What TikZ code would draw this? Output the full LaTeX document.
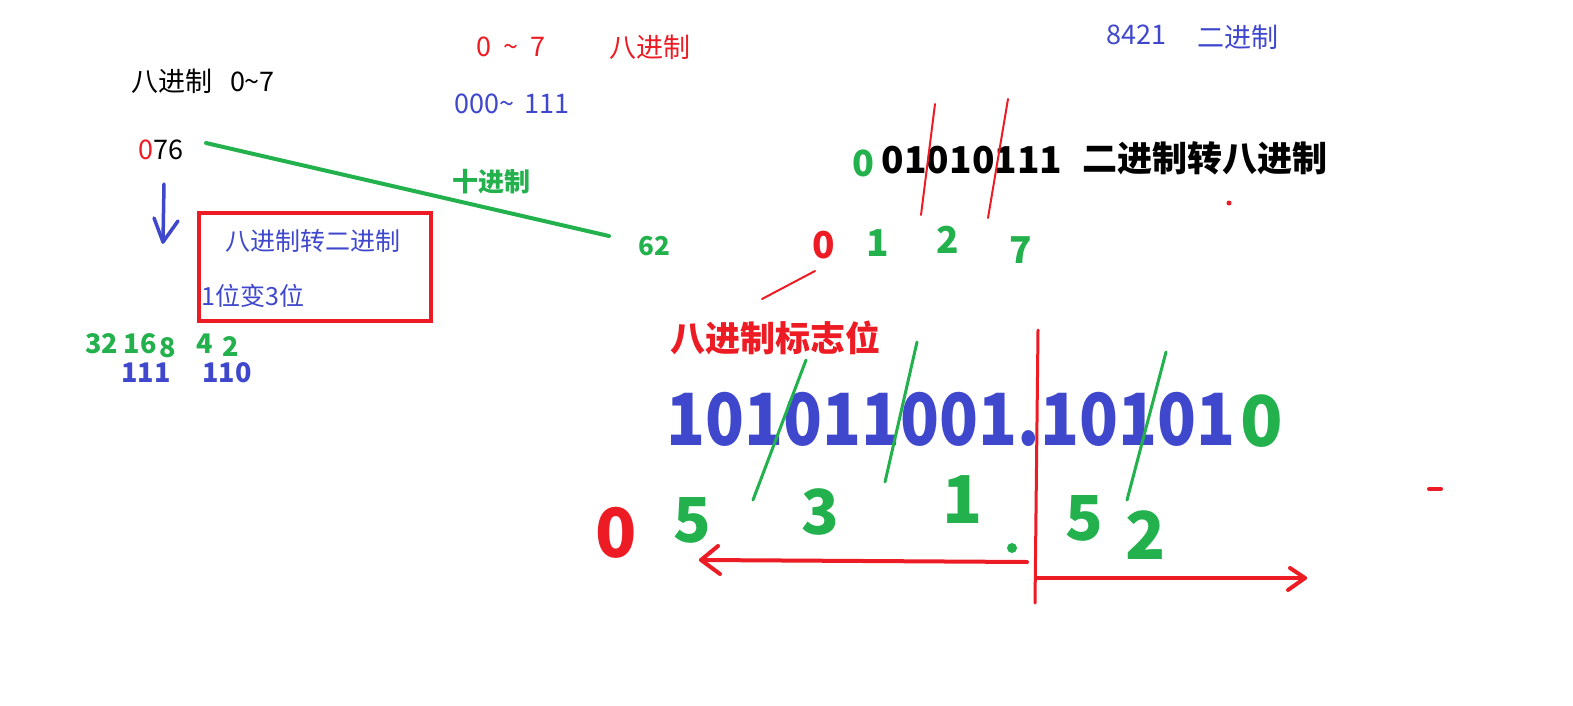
\documentclass[tikz,border=0pt]{standalone}
\usepackage{fontspec}
\usepackage{graphicx}
\setmainfont{Noto Sans CJK SC}
\newcommand\fsz[1]{\fontsize{#1}{#1}\selectfont}
\definecolor{pr}{RGB}{237,28,36}
\definecolor{pg}{RGB}{34,177,76}
\definecolor{pb}{RGB}{63,72,204}
\tikzset{
  txt/.style={inner sep=0pt, outer sep=0pt, anchor=center},
  redline/.style={draw=pr, line width=2pt, line cap=round},
  greenline/.style={draw=pg, line width=3pt, line cap=round},
  arrowline/.style={draw=pr, line width=4pt, line cap=round, line join=round},
}
\begin{document}
\begin{tikzpicture}[x=1pt,y=-1pt]
\useasboundingbox (0,0) rectangle (1573,706);
\fill[white] (0,0) rectangle (1573,706);

% top-left
\node[txt, black, font=\fsz{27}] (t1) at (203,81) {八进制\hspace{18pt}0\textasciitilde7};
\node[txt, pr, font=\fsz{27}] (t2) at (511,47) {0\hspace{12pt}\textasciitilde\hspace{12pt}7};
\node[txt, pr, font=\fsz{27}] (t3) at (650,47) {八进制};
\node[txt, pb, font=\fsz{27}] (t4) at (512,104) {000\textasciitilde\hspace{10pt}111};
\node[txt, font=\fsz{27}] (n076) at (161,150) {\textcolor{pr}{0}76};

% green connector to 62
\coordinate (g1) at (206,143);
\coordinate (g2) at (609,236);
\draw[draw=pg, line width=4pt, line cap=round] (g1) -- (g2);
\node[txt, pg, font=\fsz{26}\bfseries] (t10) at (491,182) {十进制};
\node[txt, pg, font=\fsz{26}\bfseries] (n62) at (654,246) {62};

% blue down arrow
\coordinate (a1) at (164,184);
\coordinate (a2) at (163,242);
\draw[draw=pb, line width=3.5pt, line cap=round] (a1) -- (a2);
\draw[draw=pb, line width=3.5pt, line cap=round, line join=round] (154,218) -- (a2) -- (178,221);

% red box
\draw[draw=pr, line width=4pt] (199,213) rectangle (431,321);
\node[txt, pb, font=\fsz{25}] (b1) at (313,241) {八进制转二进制};
\node[txt, pb, font=\fsz{25}] (b2) at (253,296) {1位变3位};

% weights
\node[txt, pg, font=\fsz{27}\bfseries] (w1) at (121,344) {32\hspace{6pt}16};
\node[txt, pg, font=\fsz{27}\bfseries] (w2) at (168,348) {8};
\node[txt, pg, font=\fsz{27}\bfseries] (w3) at (205,344) {4};
\node[txt, pg, font=\fsz{27}\bfseries] (w4) at (231,347) {2};
\node[txt, pb, font=\fsz{27}\bfseries] (v1) at (146,373) {111};
\node[txt, pb, font=\fsz{27}\bfseries] (v2) at (227,373) {110};

% top-right
\node[txt, pb, font=\fsz{27}] (r1) at (1136,35) {8421};
\node[txt, pb, font=\fsz{27}] (r2) at (1238,37) {二进制};
\node[txt, pg, font=\fsz{36}\bfseries] (r3) at (863,163) {0};
\node[txt, black, font=\fsz{37}\bfseries] (r4) at (972,160) {01010111};
\node[txt, black, font=\fsz{35}\bfseries] (r5) at (1205,158) {二进制转八进制};
\draw[redline] (935,104) -- (921,215);
\draw[redline] (1008,99) -- (988,218);
\fill[pr] (1229,203) circle (2.5pt);
\node[txt, pr, font=\fsz{37}\bfseries] (d0) at (824,245) {0};
\node[txt, pg, font=\fsz{37}\bfseries] (d1) at (878,243) {1};
\node[txt, pg, font=\fsz{37}\bfseries] (d2) at (948,240) {2};
\node[txt, pg, font=\fsz{37}\bfseries] (d7) at (1021,250) {7};
\draw[redline] (762,299) -- (815,271);
\node[txt, pr, font=\fsz{35}\bfseries] (flag) at (775,338) {八进制标志位};

% big number
\node[txt, pb, font=\fsz{72}\bfseries] (big) at (951,419) {\scalebox{0.89}[1]{101011001.10101}};
\node[txt, pg, font=\fsz{70}\bfseries] (big0) at (1262,421) {0};
\draw[greenline] (806,360) -- (753,500);
\draw[greenline] (917,342) -- (885,482);
\draw[greenline] (1166,352) -- (1127,500);
\draw[draw=pr, line width=3pt, line cap=round] (1038,330) -- (1035,603);

% result digits
\node[txt, pr, font=\fsz{68}\bfseries] (o0) at (616,533) {0};
\node[txt, pg, font=\fsz{62}\bfseries] (o5) at (692,520) {5};
\node[txt, pg, font=\fsz{62}\bfseries] (o3) at (820,512) {3};
\node[txt, pg, font=\fsz{66}\bfseries] (o1) at (963,500) {1};
\fill[pg] (1012,548) circle (5pt);
\node[txt, pg, font=\fsz{62}\bfseries] (o5b) at (1084,518) {5};
\node[txt, pg, font=\fsz{66}\bfseries] (o2) at (1146,535) {2};

% arrows
\coordinate (la) at (1027,562);
\coordinate (lb) at (701,560);
\draw[arrowline] (la) -- (lb);
\draw[arrowline] (718,546) -- (lb) -- (720,574);
\coordinate (ra) at (1037,578);
\coordinate (rb) at (1305,578);
\draw[arrowline] (ra) -- (rb);
\draw[arrowline] (1290,568) -- (rb) -- (1288,590);

\draw[draw=pr, line width=4pt, line cap=round] (1429,489) -- (1441,489);
\end{tikzpicture}
\end{document}
